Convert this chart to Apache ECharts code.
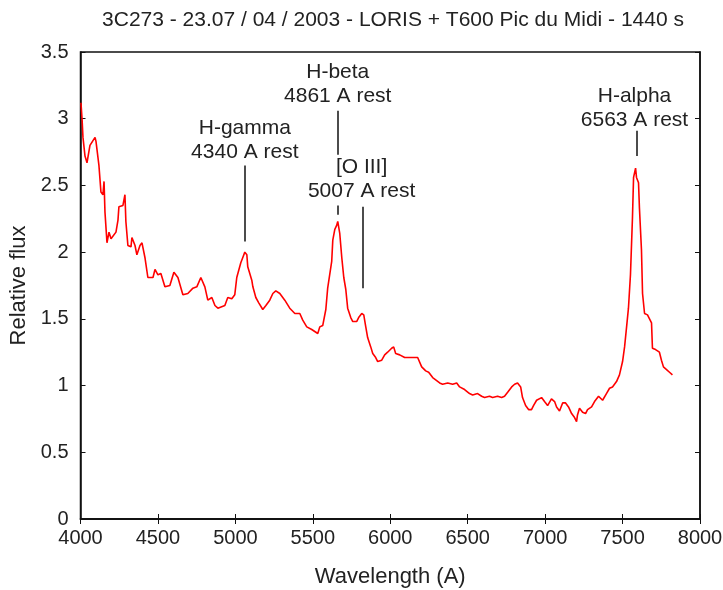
<!DOCTYPE html>
<html><head><meta charset="utf-8">
<script src="https://cdn.jsdelivr.net/npm/echarts@6/dist/echarts.min.js"></script>
<style>html,body{margin:0;padding:0;background:#fff}#c{width:723px;height:590px}</style>
</head><body><div id="c"></div>
<script>
const wavelength = [4003,4010,4016,4029,4042,4061,4094,4100,4119,4132,4145,4152,4158,4171,4184,4197,4229,4242,4248,4274,4287,4293,4306,4326,4332,4352,4364,4384,4397,4416,4435,4468,4481,4500,4519,4545,4577,4603,4629,4661,4693,4726,4751,4777,4803,4822,4848,4868,4887,4932,4951,4977,4996,5009,5035,5048,5061,5074,5080,5106,5113,5132,5151,5177,5197,5222,5242,5261,5287,5319,5351,5384,5416,5435,5461,5493,5532,5545,5564,5584,5596,5622,5629,5642,5654,5661,5674,5687,5700,5713,5725,5745,5758,5783,5796,5816,5829,5842,5854,5874,5887,5906,5919,5945,5964,5983,6009,6022,6035,6061,6093,6125,6177,6203,6229,6248,6274,6319,6338,6371,6403,6429,6448,6480,6512,6532,6564,6590,6609,6641,6661,6693,6719,6738,6758,6784,6803,6822,6842,6854,6874,6893,6912,6925,6945,6977,6996,7016,7041,7061,7074,7093,7113,7132,7151,7171,7190,7203,7209,7222,7242,7261,7274,7300,7319,7345,7371,7396,7416,7435,7461,7480,7500,7513,7526,7538,7551,7564,7571,7584,7590,7603,7609,7622,7629,7642,7661,7687,7693,7713,7738,7751,7764,7784,7803,7822];
const flux = [3.12,3.00,2.86,2.72,2.67,2.80,2.86,2.83,2.65,2.45,2.43,2.53,2.30,2.07,2.15,2.10,2.15,2.24,2.34,2.35,2.43,2.23,2.05,2.04,2.11,2.05,1.98,2.05,2.07,1.96,1.81,1.81,1.87,1.83,1.84,1.74,1.75,1.85,1.81,1.68,1.69,1.73,1.74,1.81,1.74,1.64,1.66,1.60,1.58,1.60,1.66,1.65,1.68,1.81,1.92,1.96,2.00,1.98,1.89,1.79,1.74,1.66,1.62,1.57,1.60,1.64,1.69,1.71,1.69,1.64,1.58,1.54,1.54,1.49,1.44,1.42,1.39,1.44,1.45,1.57,1.73,1.93,2.09,2.17,2.20,2.23,2.14,1.96,1.81,1.72,1.58,1.51,1.48,1.48,1.51,1.54,1.53,1.44,1.36,1.29,1.24,1.21,1.18,1.19,1.23,1.25,1.28,1.29,1.24,1.23,1.21,1.21,1.21,1.14,1.11,1.10,1.06,1.02,1.01,1.02,1.01,1.02,0.99,0.97,0.94,0.93,0.94,0.92,0.91,0.92,0.91,0.92,0.91,0.92,0.95,0.99,1.01,1.02,0.99,0.91,0.85,0.82,0.82,0.85,0.89,0.91,0.88,0.85,0.90,0.88,0.84,0.81,0.87,0.87,0.84,0.79,0.76,0.73,0.78,0.83,0.80,0.79,0.82,0.84,0.88,0.92,0.89,0.94,0.98,0.99,1.03,1.08,1.18,1.29,1.44,1.58,1.83,2.26,2.56,2.63,2.56,2.52,2.33,2.02,1.69,1.54,1.53,1.47,1.28,1.27,1.25,1.19,1.14,1.12,1.10,1.08];
const xTicks = [4000,4500,5000,5500,6000,6500,7000,7500,8000];
const yTicks = [0,0.5,1,1.5,2,2.5,3,3.5];
// annotation marker segments: [wavelength, fluxFrom, fluxTo]
const markerLines = [[5061,2.65,2.08],[5661,3.06,2.73],[5661,2.35,2.28],[5822,2.34,1.73],[7590,2.91,2.72]];
// annotation labels: [wavelength, flux, text]
const labels = [
  [5061,2.84,'H-gamma\n4340 A rest'],
  [5661,3.26,'H-beta\n4861 A rest'],
  [5815,2.55,'[O III]\n5007 A rest'],
  [7577,3.08,'H-alpha\n6563 A rest']
];
const FONT = 'Liberation Sans';
const chart = echarts.init(document.getElementById('c'));
const spec = wavelength.map((w,i)=>[w,flux[i]]);
chart.setOption({
  animation:false,
  backgroundColor:'#fff',
  title:{text:'3C273 - 23.07 / 04 / 2003 - LORIS + T600 Pic du Midi - 1440 s',left:388,top:5,textAlign:'center',
    textStyle:{fontFamily:FONT,fontSize:21,fontWeight:'normal',color:'#222'}},
  grid:{left:80.5,right:23,top:52,bottom:71,containLabel:false,outerBoundsMode:'none',
    show:true,borderColor:'#111',borderWidth:1.5,backgroundColor:'#fff'},
  xAxis:[{type:'value',min:4000,max:8000,interval:500,
    name:'Wavelength (A)',nameLocation:'middle',nameGap:47,
    nameTextStyle:{fontFamily:FONT,fontSize:22,color:'#222'},
    axisLine:{show:true,lineStyle:{color:'#111',width:1.5}},
    axisTick:{show:true,inside:true,length:5,lineStyle:{color:'#111'}},
    axisLabel:{fontFamily:FONT,fontSize:20,color:'#222',margin:9,formatter:v=>String(v)},
    splitLine:{show:false}},
    {type:'value',position:'top',min:4000,max:8000,interval:500,
    axisLine:{show:true,lineStyle:{color:'#111',width:1.5}},
    axisTick:{show:true,inside:true,length:5,lineStyle:{color:'#111'}},
    axisLabel:{show:false},splitLine:{show:false}}],
  yAxis:[{type:'value',min:0,max:3.5,interval:0.5,
    name:'Relative flux',nameLocation:'middle',nameGap:46,
    nameTextStyle:{fontFamily:FONT,fontSize:22,color:'#222'},
    axisLine:{show:true,lineStyle:{color:'#111',width:1.5}},
    axisTick:{show:true,inside:true,length:5,lineStyle:{color:'#111'}},
    axisLabel:{fontFamily:FONT,fontSize:20,color:'#222',margin:12,formatter:v=>String(v)},
    splitLine:{show:false}},
    {type:'value',position:'right',min:0,max:3.5,interval:0.5,
    axisLine:{show:true,lineStyle:{color:'#111',width:1.5}},
    axisTick:{show:true,inside:true,length:5,lineStyle:{color:'#111'}},
    axisLabel:{show:false},splitLine:{show:false}}],
  series:[{
    type:'line',data:spec,showSymbol:false,symbol:'none',
    lineStyle:{color:'#ff0000',width:1.6},
    markLine:{silent:true,symbol:['none','none'],label:{show:false},
      lineStyle:{color:'#111',width:1.5,type:'solid'},
      data:markerLines.map(m=>[{coord:[m[0],m[1]]},{coord:[m[0],m[2]]}])},
    markPoint:{silent:true,symbol:'circle',symbolSize:0,
      label:{show:true,position:'inside',fontFamily:FONT,fontSize:21,color:'#222',lineHeight:24,align:'center',
        formatter:p=>p.data.txt},
      data:labels.map(l=>({coord:[l[0],l[1]],txt:l[2]}))}
  }]
});
</script></body></html>
